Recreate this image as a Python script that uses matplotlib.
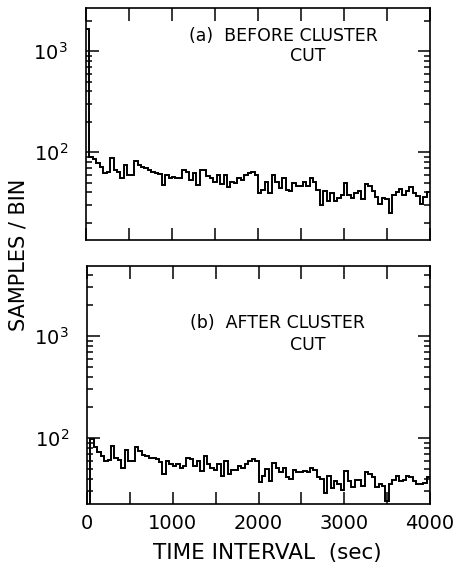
import numpy as np
import matplotlib
matplotlib.use("Agg")
import matplotlib.pyplot as plt
from matplotlib.ticker import LogLocator, MultipleLocator, FixedLocator, NullFormatter

plt.rcParams['font.family'] = ['DejaVu Sans']
plt.rcParams['mathtext.default'] = 'regular'

# 100 bins of 40 s from 0 to 4000 s
bin_width = 40
n_bins = 100

# (a) before cluster cut
counts_before = [
    1650, 90, 85, 78, 72, 62, 64, 88, 67, 64,
    55, 75, 60, 60, 82, 75, 71, 70, 67, 64,
    62, 61, 47, 60, 55, 57, 55, 55, 67, 64,
    53, 62, 47, 67, 67, 58, 55, 51, 60, 48,
    60, 45, 51, 49, 55, 53, 60, 62, 64, 60,
    39, 42, 51, 39, 60, 51, 44, 55, 42, 41,
    49, 46, 46, 51, 46, 55, 51, 42, 30, 41,
    33, 39, 33, 35, 38, 49, 38, 35, 39, 41,
    34, 48, 46, 41, 36, 31, 35, 34, 25, 38,
    40, 43, 38, 41, 45, 39, 37, 31, 36, 40,
]

# (b) after cluster cut
counts_after = [
    5, 98, 81, 73, 66, 60, 61, 84, 63, 61,
    51, 77, 60, 60, 81, 75, 68, 66, 64, 64,
    62, 58, 44, 60, 55, 53, 55, 51, 53, 64,
    62, 53, 60, 47, 67, 56, 51, 48, 55, 42,
    60, 44, 49, 48, 53, 51, 55, 60, 62, 60,
    37, 42, 50, 38, 57, 51, 46, 51, 41, 40,
    49, 46, 46, 47, 46, 51, 49, 41, 40, 29,
    42, 32, 38, 35, 31, 47, 38, 33, 39, 39,
    34, 46, 44, 41, 33, 35, 34, 24, 35, 39,
    42, 38, 39, 42, 41, 38, 35, 35, 36, 41,
]

x_tick_labels = ['0', '', '1000', '', '2000', '', '3000', '', '4000']
panel_titles = ['(a)  BEFORE CLUSTER', '(b)  AFTER CLUSTER']

edges = np.arange(n_bins + 1) * bin_width

fig = plt.figure(figsize=(4.61, 5.67), dpi=100)
ax_top = fig.add_axes([86 / 461, 1 - 240 / 567, 344 / 461, 232 / 567])
ax_bot = fig.add_axes([87 / 461, 1 - 504 / 567, 343 / 461, 238 / 567])

ylims = [(13.5, 2670), (22.5, 4850)]
title_y = [(0.879, 0.793), (0.76, 0.668)]

for ax, counts, title, ylim, ty in zip([ax_top, ax_bot],
                                       [counts_before, counts_after],
                                       panel_titles, ylims, title_y):
    ax.stairs(counts, edges, baseline=None, color='black', linewidth=1.4)
    ax.set_yscale('log')
    ax.set_xlim(0, 4000)
    ax.set_ylim(*ylim)

    ax.xaxis.set_major_locator(MultipleLocator(500))
    ax.yaxis.set_major_locator(FixedLocator([100, 1000]))
    ax.yaxis.set_minor_locator(LogLocator(base=10, subs=np.arange(2, 10)))
    ax.yaxis.set_minor_formatter(NullFormatter())
    ax.set_yticklabels(['$10^2$', '$10^3$'])
    ax.tick_params(which='both', direction='in', top=True, right=True,
                   width=1.1, labelsize=14, colors='black')
    ax.tick_params(which='major', length=9)
    ax.tick_params(which='minor', length=4.5)
    ax.tick_params(axis='y', pad=13)
    ax.tick_params(axis='x', pad=7)
    for s in ax.spines.values():
        s.set_linewidth(1.2)

    ax.text(0.30, ty[0], title, transform=ax.transAxes, fontsize=12.5,
            ha='left', va='center')
    ax.text(0.645, ty[1], 'CUT', transform=ax.transAxes, fontsize=12.5,
            ha='center', va='center')

ax_top.set_xticklabels([])
ax_bot.set_xticks(np.arange(0, 4001, 500))
ax_bot.set_xticklabels(x_tick_labels)

fig.text(0.04, 0.45 + 0.1, 'SAMPLES / BIN', rotation=90, fontsize=15,
         ha='center', va='center')
fig.text(0.58, 0.024, 'TIME INTERVAL  (sec)', fontsize=15.5,
         ha='center', va='center')

fig.savefig('out.png', dpi=100)
